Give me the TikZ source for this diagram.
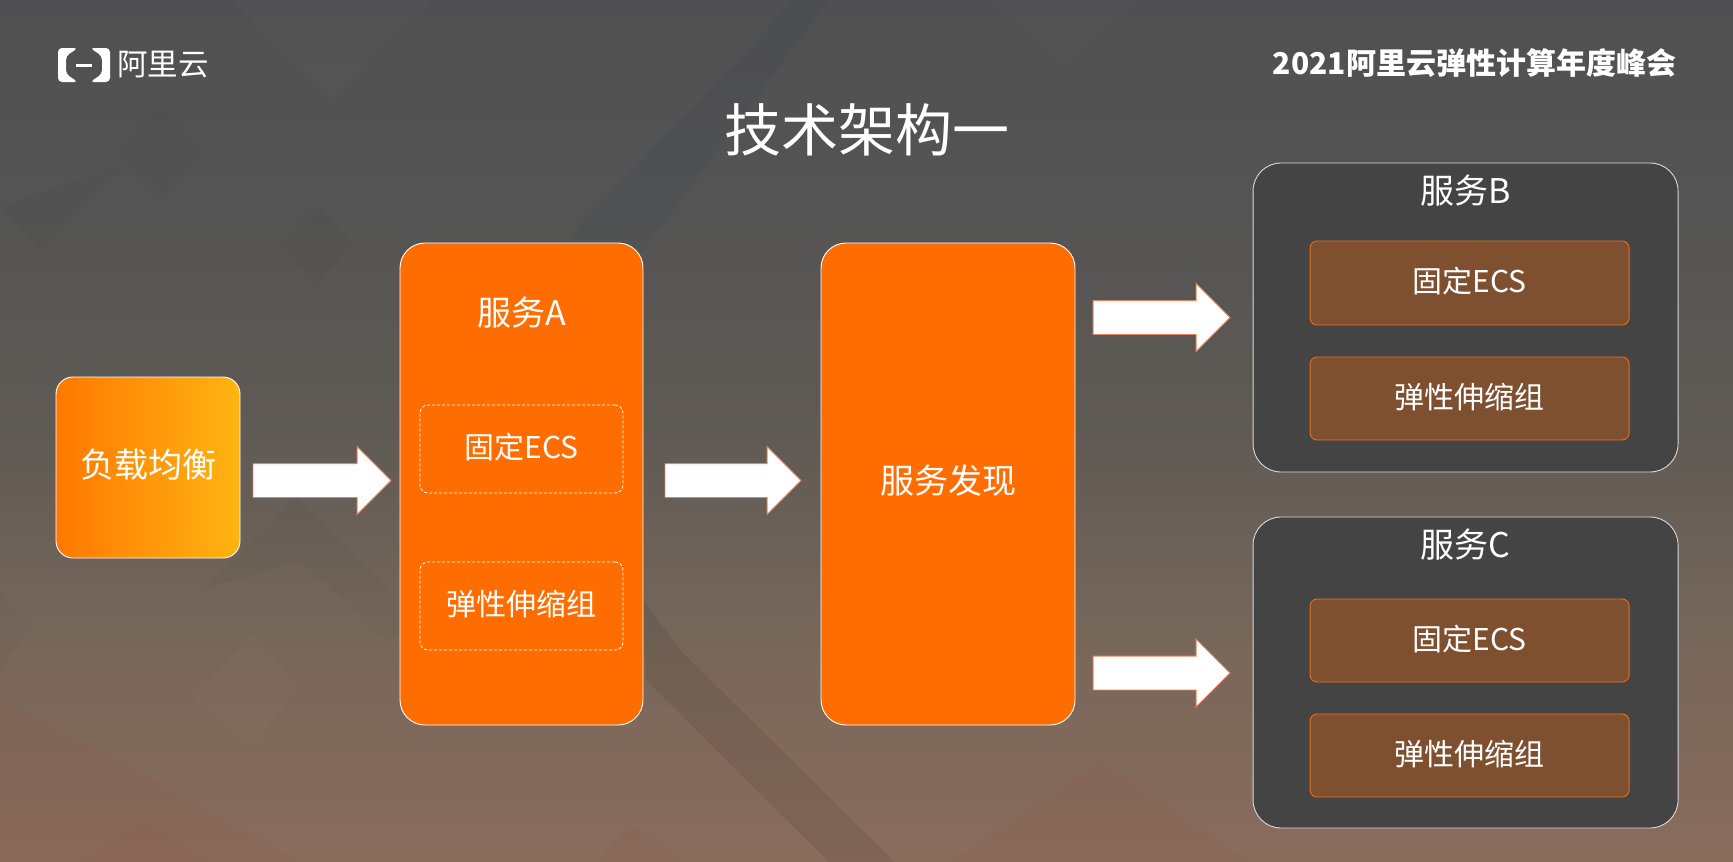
\documentclass[tikz,border=0pt]{standalone}
\usepackage{fontspec}
\setmainfont{Noto Sans CJK SC}
\usetikzlibrary{positioning,shapes.arrows}
\definecolor{bgtop}{HTML}{505052}
\definecolor{bgup}{HTML}{565554}
\definecolor{bgmid}{HTML}{5F5A54}
\definecolor{bglow}{HTML}{75665A}
\definecolor{bgbot}{HTML}{8A6C5C}
\definecolor{svcorange}{HTML}{FF6D00}
\definecolor{lbleft}{HTML}{FF7800}
\definecolor{lbmid}{HTML}{FFAA00}
\definecolor{lbright}{HTML}{FFB412}
\definecolor{innerbrown}{HTML}{7F5030}
\definecolor{innerline}{HTML}{E8701F}
\definecolor{darkbox}{HTML}{444444}
\definecolor{arrowline}{HTML}{E8825A}
\definecolor{bandblue}{HTML}{2F3A4A}
\pgfdeclareverticalshading{bgfade}{100bp}{color(0bp)=(bgbot); color(25bp)=(bgbot); color(39bp)=(bglow); color(50bp)=(bgmid); color(60.5bp)=(bgup); color(75bp)=(bgtop); color(100bp)=(bgtop)}
\newcommand{\fs}[1]{\fontsize{#1}{#1}\selectfont}

\begin{document}
\begin{tikzpicture}[x=1pt,y=-1pt,
	svcbox/.style={draw=white,line width=.9pt,inner sep=0pt,outer sep=0pt,text=white,align=center,text height=24pt,text depth=5pt},
	lbbox/.style={svcbox,left color=lbleft,middle color=lbmid,right color=lbright,rounded corners=17pt,minimum width=184pt,minimum height=181pt,font=\fs{34}},
	orangebox/.style={svcbox,fill=svcorange,rounded corners=25pt,minimum height=482pt,font=\fs{34}},
	dashbox/.style={svcbox,dash pattern=on 3pt off 2pt,line width=.8pt,rounded corners=8pt,minimum width=203pt,minimum height=88pt,font=\fs{30}},
	darksvc/.style={svcbox,draw=white!85!black,fill=darkbox,rounded corners=28pt,minimum width=425pt},
	innerbox/.style={svcbox,draw=innerline,fill=innerbrown,rounded corners=7pt,minimum width=319pt,minimum height=83pt,font=\fs{30}},
	blockarrow/.style={single arrow,draw=arrowline,fill=white,line width=.9pt,inner xsep=0pt,inner ysep=16.5pt,outer sep=0pt,
		single arrow head extend=17pt,minimum width=67pt,minimum height=137pt},
	titletext/.style={text=white,inner sep=0pt,font=\fs{34},anchor=center},
	bgdark/.style={fill=black,opacity=.02},
	bgblue/.style={fill=bandblue,opacity=.11},
	bglight/.style={fill=white,opacity=.015},
	bgpink/.style={fill=red!70!black,opacity=.025}]
	\useasboundingbox (0,0) rectangle (1733,862);
	% background
	\fill[shading=bgfade] (0,0) rectangle (1733,862);
	\fill[bglight] (232,0) -- (431,0) -- (329,100) -- cycle;
	\fill[bgdark] (0,207) -- (127,163) -- (41,250) -- cycle;
	\fill[bgdark] (160,107) -- (204,150) -- (160,197) -- (116,150) -- cycle;
	\fill[bgdark] (318,207) -- (354,243) -- (318,283) -- (279,243) -- cycle;
	\fill[bglight] (993,0) -- (1137,0) -- (1062,65) -- cycle;
	\fill[bgblue] (795,0) -- (829,0) -- (646,247) -- (600,310) -- (480,330) -- cycle;
	\fill[bgdark] (298,498) -- (420,620) -- (387,640) -- (298,560) -- (199,591) -- cycle;
	\fill[bgdark] (0,591) -- (33,624) -- (0,670) -- cycle;
	\fill[bglight] (254,631) -- (298,688) -- (254,744) -- (193,698) -- cycle;
	\fill[bgdark,opacity=.07] (643,600) -- (680,650) -- (895,862) -- (829,862) -- (646,680) -- cycle;
	\fill[bgpink] (143,819) -- (210,862) -- (80,862) -- cycle;
	\fill[bgpink] (630,824) -- (685,862) -- (597,862) -- cycle;
	\fill[bgpink] (0,700) -- (120,760) -- (300,862) -- (0,862) -- cycle;
	\fill[bgpink] (1100,760) -- (1250,862) -- (950,862) -- cycle;
	% logo
	\fill[white,rounded corners=4pt] (78,48) -- (58,48) -- (58,82) -- (78,82) -- (66,74) -- (66,56) -- cycle;
	\fill[white,rounded corners=4pt] (90,48) -- (110,48) -- (110,82) -- (90,82) -- (102,74) -- (102,56) -- cycle;
	\fill[white] (76,64) rectangle (92,67);
	\node[titletext,font=\fs{30.5}] (logo_text) at (163,65) {阿里云};
	\node[titletext,font=\fs{30}\bfseries] (summit) at (1474.5,63) {2021阿里云弹性计算年度峰会};
	\node[titletext,font=\fs{57}] (page_title) at (867,130) {技术架构一};
	% left to right
	\node[lbbox] (lb) at (148,467.5) {负载均衡};
	\node[blockarrow,minimum height=138pt] (arr_a) [right=13pt of lb,yshift=-13pt] {};
	\node[orangebox,minimum width=243pt] (svc_a) [right=9pt of arr_a,yshift=-3.5pt] {};
	\node[titletext] (title_a) [below=70pt of svc_a.north,anchor=center] {服务A};
	\node[dashbox] (fixed_a) [below=162pt of svc_a.north] {固定ECS};
	\node[dashbox] (elastic_a) [below=69pt of fixed_a] {弹性伸缩组};
	\node[blockarrow,minimum height=136pt] (arr_b) [right=22pt of svc_a,yshift=3.5pt] {};
	\node[orangebox,minimum width=254pt] (disc) [right=20pt of arr_b,yshift=-3.5pt] {服务发现};
	\node[blockarrow] (arr_c) [right=18pt of disc,yshift=166.5pt] {};
	\node[blockarrow] (arr_d) [right=18pt of disc,yshift=-189pt] {};
	% right side services
	\node[darksvc,minimum height=309pt] (svc_b) [right=23pt of arr_c] {};
	\node[titletext] (title_b) [below=28pt of svc_b.north,anchor=center] {服务B};
	\node[innerbox,minimum height=84pt] (fixed_b) [below=78pt of svc_b.north,xshift=4pt] {固定ECS};
	\node[innerbox] (elastic_b) [below=32pt of fixed_b] {弹性伸缩组};
	\node[darksvc,minimum height=311pt] (svc_c) [below=45pt of svc_b] {};
	\node[titletext] (title_c) [below=28pt of svc_c.north,anchor=center] {服务C};
	\node[innerbox] (fixed_c) [below=82pt of svc_c.north,xshift=4pt] {固定ECS};
	\node[innerbox] (elastic_c) [below=32pt of fixed_c] {弹性伸缩组};
\end{tikzpicture}
\end{document}
